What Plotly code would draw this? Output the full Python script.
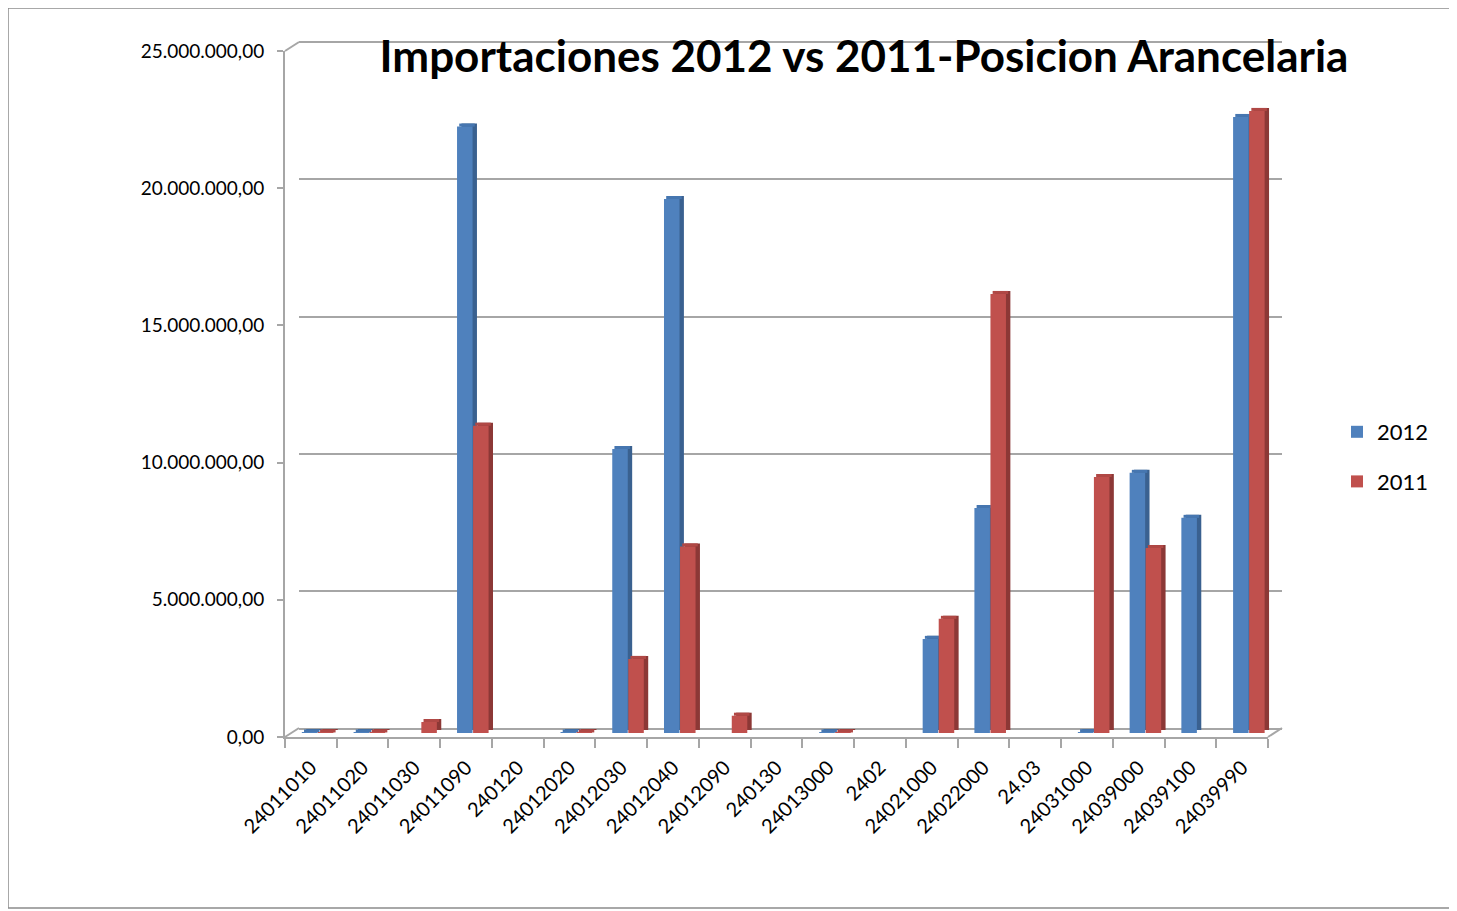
import plotly.graph_objects as go

W, H = 1457, 911
OFF = 8  # page body margin

categories = ["24011010", "24011020", "24011030", "24011090", "240120", "24012020",
              "24012030", "24012040", "24012090", "240130", "24013000", "2402",
              "24021000", "24022000", "24.03", "24031000", "24039000", "24039100", "24039990"]
values_2012 = [20000, 20000, 0, 22100000, 0, 20000,
               10350000, 19460000, 0, 0, 20000, 0,
               3430000, 8200000, 0, 30000, 9480000, 7840000, 22450000]
values_2011 = [20000, 20000, 400000, 11200000, 0, 20000,
               2700000, 6800000, 630000, 0, 20000, 0,
               4160000, 16000000, 0, 9330000, 6740000, 0, 22670000]
y_ticks = [0, 5000000, 10000000, 15000000, 20000000, 25000000]

FONT = "Lato"
GRID = "#A6A6A6"
DX = 0.085      # depth offset in category units
DY = 110000     # depth offset in value units

def px_x(p):
    return (p - OFF) / W

def px_y(p):
    return 1 - (p - OFF) / H

series = [
    ("2012", values_2012, -0.31, "#4F81BD", "#3A6190", "#4676B0"),
    ("2011", values_2011, 0.0, "#C0504D", "#8C3836", "#B04845"),
]

fig = go.Figure()

fig.add_trace(go.Scatter(x=categories, y=[0] * len(categories), mode="none",
                         showlegend=False, hoverinfo="skip", xaxis="x", yaxis="y"))
fig.add_trace(go.Scatter(x=categories, y=[0] * len(categories), mode="none",
                         showlegend=False, hoverinfo="skip", xaxis="x2", yaxis="y2"))

for name, vals, off, c_front, c_side, c_top in series:
    fig.add_trace(go.Bar(x=categories, y=vals, base=DY, offset=off + DX, width=0.30,
                         marker=dict(color=c_side, line=dict(width=0)),
                         showlegend=False, hoverinfo="skip", xaxis="x3", yaxis="y3"))
for name, vals, off, c_front, c_side, c_top in series:
    fig.add_trace(go.Bar(x=categories, y=[DY if v > 0 else 0 for v in vals], base=vals,
                         offset=off + DX * 0.5, width=0.30,
                         marker=dict(color=c_top, line=dict(width=0)),
                         showlegend=False, hoverinfo="skip", xaxis="x3", yaxis="y3"))
for name, vals, off, c_front, c_side, c_top in series:
    fig.add_trace(go.Bar(x=categories, y=vals, offset=off, width=0.30, name=name,
                         legendgroup=name,
                         marker=dict(color=c_front, line=dict(width=0)),
                         xaxis="x3", yaxis="y3"))

cat_axis = dict(type="category", categoryorder="array", categoryarray=categories,
                range=[-0.5, len(categories) - 0.5], automargin=False)

shapes = [
    dict(type="rect", xref="paper", yref="paper", x0=px_x(8), x1=px_x(1455),
         y0=px_y(908), y1=px_y(8), line=dict(color="#8C8C8C", width=1.5)),
    dict(type="line", xref="paper", yref="paper", x0=px_x(285), y0=px_y(51),
         x1=px_x(299), y1=px_y(42), line=dict(color=GRID, width=2)),
    dict(type="line", xref="paper", yref="paper", x0=px_x(285), y0=px_y(737),
         x1=px_x(299), y1=px_y(728), line=dict(color=GRID, width=2)),
    dict(type="line", xref="paper", yref="paper", x0=px_x(1268), y0=px_y(737),
         x1=px_x(1282), y1=px_y(728), line=dict(color=GRID, width=2)),
]

fig.update_layout(
    width=W, height=H,
    autosize=False,
    margin=dict(l=0, r=0, t=0, b=0, pad=0, autoexpand=False),
    paper_bgcolor="white",
    plot_bgcolor="rgba(0,0,0,0)",
    separators=",.",
    barmode="overlay",
    font=dict(family=FONT, color="black"),
    title=dict(text="<b>Importaciones 2012 vs 2011-Posicion Arancelaria</b>",
               x=px_x(864), y=px_y(57), xanchor="center", yanchor="middle",
               font=dict(family=FONT, size=44, color="black")),
    xaxis=dict(**cat_axis, domain=[px_x(285), px_x(1268)], anchor="y",
               showline=True, linecolor=GRID, linewidth=2,
               ticks="outside", ticklen=9, tickcolor=GRID, tickwidth=2,
               tickson="boundaries", tickangle=-45, showgrid=False,
               ticklabelstandoff=9,
               tickfont=dict(family=FONT, size=20, color="black")),
    yaxis=dict(domain=[px_y(737), px_y(51)], anchor="x", range=[0, 25000000],
               tickvals=y_ticks, tickformat=",.2f", automargin=False,
               showline=True, linecolor=GRID, linewidth=2,
               ticks="outside", ticklen=6, tickcolor=GRID, tickwidth=2,
               showgrid=False, zeroline=False, ticklabelstandoff=9,
               tickfont=dict(family=FONT, size=19, color="black")),
    xaxis2=dict(**cat_axis, domain=[px_x(299), px_x(1282)], anchor="y2",
                showline=False, showticklabels=False,
                ticks="", showgrid=False),
    yaxis2=dict(domain=[px_y(731.25), px_y(39.25)], anchor="x2",
                range=[-100000, 25100000],
                tickvals=y_ticks, showticklabels=False, ticks="", automargin=False,
                showgrid=True, gridcolor=GRID, gridwidth=2, zeroline=False,
                showline=False),
    xaxis3=dict(**cat_axis, domain=[px_x(292), px_x(1275)], anchor="y3", visible=False),
    yaxis3=dict(domain=[px_y(733), px_y(47)], anchor="x3", range=[0, 25000000],
                visible=False, automargin=False),
    legend=dict(x=px_x(1337), y=px_y(457), xanchor="left", yanchor="middle",
                font=dict(family=FONT, size=22, color="black"),
                traceorder="grouped", tracegroupgap=18, bgcolor="rgba(0,0,0,0)"),
    shapes=shapes,
)

fig.write_html("out.html")
